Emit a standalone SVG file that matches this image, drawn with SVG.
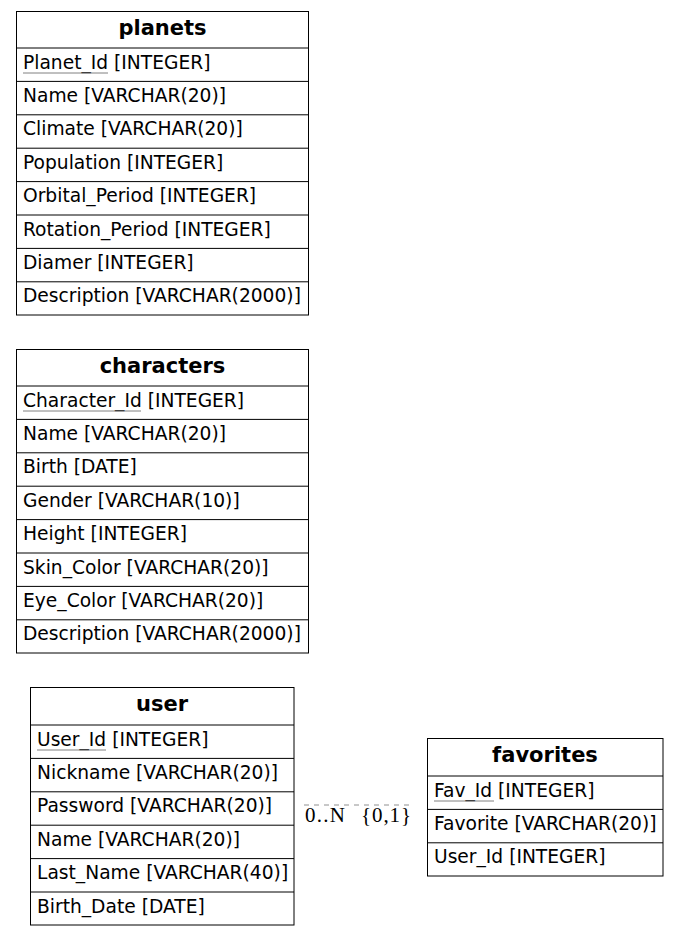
<svg xmlns="http://www.w3.org/2000/svg" width="679" height="936" viewBox="0 0 679 936">
<style>
.box{fill:#fff;stroke:#000;stroke-width:1}
.sep{stroke:#000;stroke-width:1}
.hd{font-family:"DejaVu Sans",sans-serif;font-weight:bold;font-size:21px;text-anchor:middle;fill:#000}
.fd{font-family:"DejaVu Sans",sans-serif;font-size:18.67px;fill:#000}
.ul{stroke:#808080;stroke-width:1}
.lbl{font-family:"Liberation Serif","Times New Roman",serif;font-size:21px;fill:#000}
.conn{stroke:#909090;stroke-width:1;stroke-dasharray:5,5;fill:none}
</style>
<rect width="679" height="936" fill="#fff"/>
<g id="connectors">
<line class="conn" x1="304" y1="805" x2="411" y2="805"/>
<text class="lbl" x="305" y="822" textLength="40" lengthAdjust="spacing">0..N</text>
<text class="lbl" x="361" y="822" textLength="50" lengthAdjust="spacing">{0,1}</text>
</g>
<g id="planets">
<rect class="box" x="16.5" y="11.5" width="292" height="303.5"/>
<line class="sep" x1="16.5" y1="48" x2="308.5" y2="48"/>
<line class="sep" x1="16.5" y1="81.4" x2="308.5" y2="81.4"/>
<line class="sep" x1="16.5" y1="114.8" x2="308.5" y2="114.8"/>
<line class="sep" x1="16.5" y1="148.2" x2="308.5" y2="148.2"/>
<line class="sep" x1="16.5" y1="181.6" x2="308.5" y2="181.6"/>
<line class="sep" x1="16.5" y1="215" x2="308.5" y2="215"/>
<line class="sep" x1="16.5" y1="248.4" x2="308.5" y2="248.4"/>
<line class="sep" x1="16.5" y1="281.8" x2="308.5" y2="281.8"/>
<text class="hd" x="162.5" y="34.5">planets</text>
<text class="fd" x="23" y="68.5">Planet_Id [INTEGER]</text>
<line class="ul" x1="23" y1="73" x2="108" y2="73"/>
<text class="fd" x="23" y="101.9">Name [VARCHAR(20)]</text>
<text class="fd" x="23" y="135.3">Climate [VARCHAR(20)]</text>
<text class="fd" x="23" y="168.7">Population [INTEGER]</text>
<text class="fd" x="23" y="202.1">Orbital_Period [INTEGER]</text>
<text class="fd" x="23" y="235.5">Rotation_Period [INTEGER]</text>
<text class="fd" x="23" y="268.9">Diamer [INTEGER]</text>
<text class="fd" x="23" y="302.3">Description [VARCHAR(2000)]</text>
</g>
<g id="characters">
<rect class="box" x="16.5" y="349.5" width="292" height="303.5"/>
<line class="sep" x1="16.5" y1="386" x2="308.5" y2="386"/>
<line class="sep" x1="16.5" y1="419.4" x2="308.5" y2="419.4"/>
<line class="sep" x1="16.5" y1="452.8" x2="308.5" y2="452.8"/>
<line class="sep" x1="16.5" y1="486.2" x2="308.5" y2="486.2"/>
<line class="sep" x1="16.5" y1="519.6" x2="308.5" y2="519.6"/>
<line class="sep" x1="16.5" y1="553" x2="308.5" y2="553"/>
<line class="sep" x1="16.5" y1="586.4" x2="308.5" y2="586.4"/>
<line class="sep" x1="16.5" y1="619.8" x2="308.5" y2="619.8"/>
<text class="hd" x="162.5" y="372.5">characters</text>
<text class="fd" x="23" y="406.5">Character_Id [INTEGER]</text>
<line class="ul" x1="23" y1="411" x2="141" y2="411"/>
<text class="fd" x="23" y="439.9">Name [VARCHAR(20)]</text>
<text class="fd" x="23" y="473.3">Birth [DATE]</text>
<text class="fd" x="23" y="506.7">Gender [VARCHAR(10)]</text>
<text class="fd" x="23" y="540.1">Height [INTEGER]</text>
<text class="fd" x="23" y="573.5">Skin_Color [VARCHAR(20)]</text>
<text class="fd" x="23" y="606.9">Eye_Color [VARCHAR(20)]</text>
<text class="fd" x="23" y="640.3">Description [VARCHAR(2000)]</text>
</g>
<g id="user">
<rect class="box" x="30.5" y="687.5" width="263.5" height="237.5"/>
<line class="sep" x1="30.5" y1="725" x2="294" y2="725"/>
<line class="sep" x1="30.5" y1="758.4" x2="294" y2="758.4"/>
<line class="sep" x1="30.5" y1="791.8" x2="294" y2="791.8"/>
<line class="sep" x1="30.5" y1="825.2" x2="294" y2="825.2"/>
<line class="sep" x1="30.5" y1="858.6" x2="294" y2="858.6"/>
<line class="sep" x1="30.5" y1="892" x2="294" y2="892"/>
<text class="hd" x="162" y="710.5">user</text>
<text class="fd" x="37" y="745.5">User_Id [INTEGER]</text>
<line class="ul" x1="37" y1="750" x2="106" y2="750"/>
<text class="fd" x="37" y="778.9">Nickname [VARCHAR(20)]</text>
<text class="fd" x="37" y="812.3">Password [VARCHAR(20)]</text>
<text class="fd" x="37" y="845.7">Name [VARCHAR(20)]</text>
<text class="fd" x="37" y="879.1">Last_Name [VARCHAR(40)]</text>
<text class="fd" x="37" y="912.5">Birth_Date [DATE]</text>
</g>
<g id="favorites">
<rect class="box" x="427.5" y="738.5" width="235.5" height="137.5"/>
<line class="sep" x1="427.5" y1="776" x2="663" y2="776"/>
<line class="sep" x1="427.5" y1="809.4" x2="663" y2="809.4"/>
<line class="sep" x1="427.5" y1="842.8" x2="663" y2="842.8"/>
<text class="hd" x="545" y="761.5">favorites</text>
<text class="fd" x="434" y="796.5">Fav_Id [INTEGER]</text>
<line class="ul" x1="434" y1="801" x2="494" y2="801"/>
<text class="fd" x="434" y="829.9">Favorite [VARCHAR(20)]</text>
<text class="fd" x="434" y="863.3">User_Id [INTEGER]</text>
</g>
</svg>
